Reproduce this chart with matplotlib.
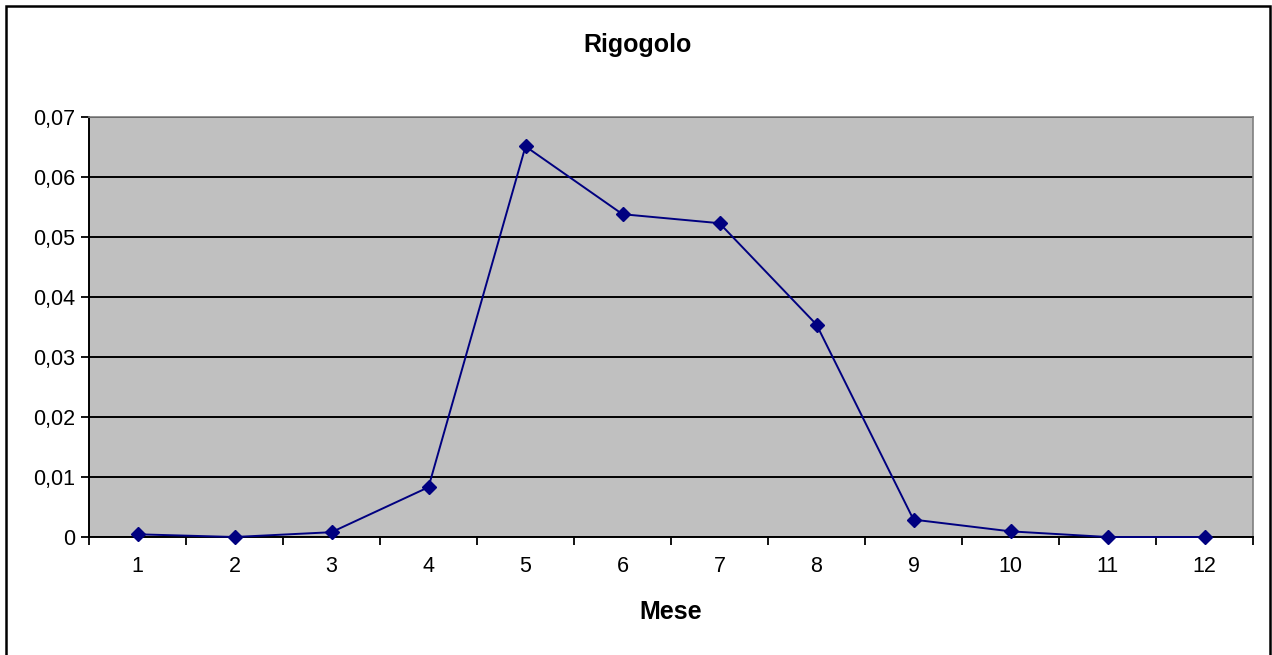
import matplotlib
matplotlib.use("Agg")
import matplotlib.pyplot as plt
from matplotlib.patches import Rectangle
from matplotlib.ticker import FuncFormatter, MultipleLocator, FixedLocator

# dati
mesi = [1, 2, 3, 4, 5, 6, 7, 8, 9, 10, 11, 12]
valori = [0.00045, 0.0, 0.0008, 0.0083, 0.0651, 0.0538, 0.0523, 0.0354, 0.0029, 0.00094, 0.0, 0.0]
titolo = "Rigogolo"
etichetta_x = "Mese"

plt.rcParams['font.family'] = ['Liberation Sans', 'DejaVu Sans']

fig = plt.figure(figsize=(12.72, 6.55), dpi=100)
ax = fig.add_axes([89 / 1272, 1 - 537 / 655, (1253 - 89) / 1272, (537 - 117) / 655])

ax.set_facecolor('#C0C0C0')
ax.plot(mesi, valori, color='#000080', linewidth=1.4, marker='D', markersize=7,
        markerfacecolor='#000080', markeredgecolor='#000080', zorder=3, clip_on=False)

ax.set_xlim(0.5, 12.5)
ax.set_ylim(0, 0.07)
ax.yaxis.set_major_locator(MultipleLocator(0.01))
ax.yaxis.set_major_formatter(FuncFormatter(
    lambda v, p: '0' if abs(v) < 1e-9 else f"{v:.2f}".replace('.', ',')))
ax.grid(axis='y', color='black', linewidth=1.4, zorder=1)
ax.set_axisbelow(True)

# etichette centrate sulle categorie, tacche tra le categorie
ax.set_xticks(mesi)
ax.set_xticklabels([str(m) for m in mesi])
ax.tick_params(axis='x', which='major', length=0, pad=14, labelsize=15.5)
ax.xaxis.set_minor_locator(FixedLocator([m + 0.5 for m in range(0, 13)]))
ax.tick_params(axis='x', which='minor', length=6, width=1.3, direction='out')
ax.tick_params(axis='y', length=6, width=1.3, direction='out', labelsize=15.5, pad=4)

for s in ['left', 'bottom']:
    ax.spines[s].set_color('black')
    ax.spines[s].set_linewidth(1.4)
for s in ['top', 'right']:
    ax.spines[s].set_color('#808080')
    ax.spines[s].set_linewidth(1.2)

fig.text(638 / 1272, 1 - 45 / 655, titolo, ha='center', va='center',
         fontsize=18, fontweight='bold')
fig.text(671 / 1272, 1 - 612 / 655, etichetta_x, ha='center', va='center',
         fontsize=18, fontweight='bold')

# cornice esterna (il bordo inferiore esce dall'immagine)
fig.patches.append(Rectangle((6 / 1272, -10 / 655), 1264 / 1272, 659 / 655,
                             transform=fig.transFigure, fill=False,
                             edgecolor='black', linewidth=1.8))

fig.savefig("out.png", dpi=100)
